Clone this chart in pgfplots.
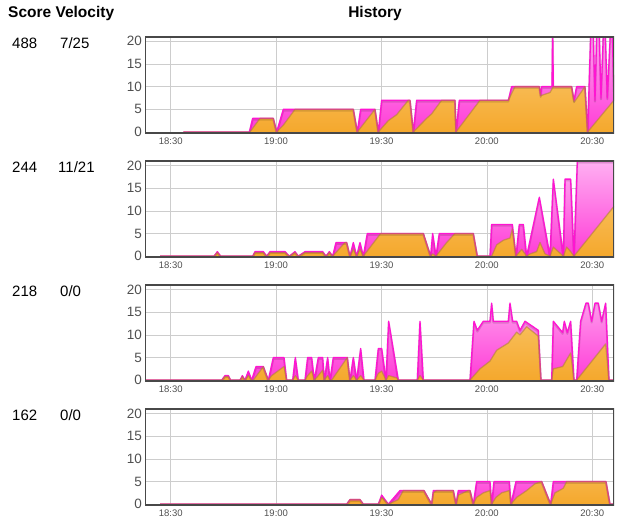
\documentclass[border=0pt]{standalone}
\usepackage{pgfplots}
\pgfplotsset{compat=1.18}
\usepackage{pgfplotstable}
\usepackage{fontspec}
\setmainfont{Liberation Sans}

\definecolor{magline}{RGB}{255,20,210}
\definecolor{magtop}{RGB}{255,175,242}
\definecolor{magbot}{RGB}{255,60,215}
\definecolor{orline}{RGB}{175,125,55}
\definecolor{ortop}{RGB}{250,205,120}
\definecolor{orbot}{RGB}{245,168,45}
\definecolor{gridgray}{RGB}{205,205,205}
\definecolor{framegray}{RGB}{72,72,72}
\definecolor{textgray}{RGB}{80,80,80}

% x is read in screen units of the time axis: 92 = 18:30, 10.54 per minute
% panel 1
\pgfplotstableread[row sep=\\]{x y\\ 130 0\\ 328 0\\ 338 3\\ 400 3\\ 410 0\\ 430 5\\ 640 5\\ 652 0\\ 662 5\\ 705 5\\ 715 0\\ 725 7\\ 810 7\\ 820 0\\ 830 7\\ 945 7\\ 948 0\\ 958 7\\ 1105 7\\ 1115 10\\ 1198 10\\ 1202 8\\ 1205 10\\ 1236 10\\ 1238 24\\ 1240 10\\ 1295 10\\ 1302 7\\ 1310 10\\ 1335 10\\ 1343 0\\ 1352 21.5\\ 1360 21.5\\ 1365 7\\ 1370 21.5\\ 1378 21.5\\ 1383 7.5\\ 1390 21.5\\ 1396 21.5\\ 1402 7.5\\ 1411 21.5\\ 1417 21.5\\ 1422 7\\}\pOneM
\pgfplotstableread[row sep=\\]{x y\\ 130 0\\ 330 0\\ 360 3\\ 400 3\\ 410 0\\ 430 1.5\\ 465 5\\ 640 5\\ 652 0\\ 705 5\\ 715 0\\ 745 2.5\\ 770 3.8\\ 805 7\\ 810 7\\ 820 0\\ 860 3\\ 875 4\\ 905 7\\ 945 7\\ 948 0\\ 1020 7\\ 1105 7\\ 1125 10\\ 1198 10\\ 1202 8\\ 1230 8.7\\ 1240 10\\ 1295 10\\ 1302 6.5\\ 1335 10\\ 1343 0\\ 1422 7\\}\pOneO
% panel 2
\pgfplotstableread[row sep=\\]{x y\\ 60 0\\ 222 0\\ 232 1\\ 242 0\\ 338 0\\ 345 1\\ 370 1\\ 380 0\\ 390 1\\ 435 1\\ 448 0\\ 465 1\\ 475 0\\ 495 1\\ 548 1\\ 558 0\\ 568 1\\ 578 0\\ 588 3\\ 620 3\\ 630 0\\ 640 3\\ 650 0\\ 660 3\\ 670 0\\ 682 5\\ 850 5\\ 872 0\\ 878 5\\ 888 0\\ 898 5\\ 1000 5\\ 1012 0\\ 1050 0\\ 1055 7\\ 1117 7\\ 1128 0\\ 1138 7\\ 1150 7\\ 1160 0\\ 1198 13\\ 1230 0\\ 1240 17\\ 1270 0\\ 1275 17\\ 1292 17\\ 1302 0\\ 1312 20.9\\ 1422 20.9\\}\pTwoM
\pgfplotstableread[row sep=\\]{x y\\ 60 0\\ 222 0\\ 232 0.8\\ 242 0\\ 338 0\\ 345 0.8\\ 370 0.8\\ 380 0\\ 390 0.8\\ 435 0.8\\ 448 0\\ 465 0.8\\ 475 0\\ 495 0.8\\ 548 0.8\\ 558 0\\ 568 0.8\\ 578 0\\ 615 3\\ 620 3\\ 630 0\\ 640 1.5\\ 650 0\\ 660 1.5\\ 670 0\\ 722 5\\ 850 5\\ 872 0\\ 878 0.5\\ 888 0\\ 920 3\\ 945 5\\ 1000 5\\ 1012 0\\ 1055 0\\ 1070 2.5\\ 1090 3.5\\ 1110 4\\ 1117 6\\ 1128 0\\ 1145 1.5\\ 1160 0\\ 1170 0.5\\ 1190 1\\ 1200 3\\ 1215 0.5\\ 1230 0\\ 1240 2\\ 1255 1\\ 1270 0\\ 1280 2\\ 1292 1\\ 1302 0\\ 1422 11\\}\pTwoO
% panel 3
\pgfplotstableread[row sep=\\]{x y\\ 15 0\\ 245 0\\ 255 1\\ 265 1\\ 272 0\\ 300 0\\ 307 1\\ 315 0\\ 325 2\\ 335 0\\ 348 3\\ 370 3\\ 385 0\\ 400 5\\ 432 5\\ 440 0\\ 458 0\\ 466 5\\ 475 0\\ 495 0\\ 503 5\\ 515 5\\ 523 0\\ 535 5\\ 548 5\\ 553 0\\ 563 5\\ 570 0\\ 580 5\\ 622 5\\ 630 0\\ 640 5\\ 650 0\\ 662 7\\ 672 0\\ 705 0\\ 715 7\\ 725 7\\ 738 0\\ 746 13\\ 775 0\\ 832 0\\ 840 13\\ 850 0\\ 990 0\\ 1002 13\\ 1012 11\\ 1030 13\\ 1050 13\\ 1055 17\\ 1060 13\\ 1105 13\\ 1110 17\\ 1118 13\\ 1130 13\\ 1140 11\\ 1155 13\\ 1195 11\\ 1203 0\\ 1235 0\\ 1240 13\\ 1268 10.5\\ 1273 13\\ 1282 10.5\\ 1292 13\\ 1302 0\\ 1310 0\\ 1322 13\\ 1338 17\\ 1345 17\\ 1355 13\\ 1365 17\\ 1375 17\\ 1385 13\\ 1397 17\\ 1407 0\\ 1422 0\\}\pThreeM
\pgfplotstableread[row sep=\\]{x y\\ 15 0\\ 245 0\\ 255 0.8\\ 265 0.8\\ 272 0\\ 300 0\\ 307 0.8\\ 315 0\\ 325 1\\ 335 0\\ 340 0\\ 370 3\\ 385 0\\ 395 1\\ 432 3\\ 440 0\\ 458 0\\ 466 1\\ 475 0\\ 495 0\\ 503 1\\ 515 2\\ 523 0\\ 535 1\\ 548 2.2\\ 553 0\\ 563 1\\ 570 0\\ 575 0\\ 622 5\\ 630 0\\ 640 1\\ 650 0\\ 662 1\\ 672 0\\ 705 0\\ 715 1.5\\ 725 2\\ 738 0\\ 746 1\\ 770 0.5\\ 775 0\\ 832 0\\ 840 1\\ 850 0\\ 990 0\\ 1020 2.5\\ 1050 4.2\\ 1070 6.6\\ 1105 8.2\\ 1130 10.6\\ 1140 10\\ 1160 11.8\\ 1195 9.7\\ 1203 0\\ 1235 0\\ 1240 2.5\\ 1268 3\\ 1292 6\\ 1302 0\\ 1310 0\\ 1397 8\\ 1407 0\\ 1422 0\\}\pThreeO
% panel 4
\pgfplotstableread[row sep=\\]{x y\\ 60 0\\ 620 0\\ 630 1\\ 660 1\\ 670 0\\ 715 0\\ 725 2\\ 745 0\\ 780 3\\ 852 3\\ 875 0\\ 880 3\\ 940 3\\ 948 0\\ 955 3\\ 990 3\\ 1000 0\\ 1010 5\\ 1050 5\\ 1055 0\\ 1062 5\\ 1108 5\\ 1113 0\\ 1128 5\\ 1205 5\\ 1232 0\\ 1240 5\\ 1398 5\\ 1410 0\\ 1422 0\\}\pFourM
\pgfplotstableread[row sep=\\]{x y\\ 60 0\\ 620 0\\ 630 1\\ 660 1\\ 670 0\\ 715 0\\ 725 1.5\\ 745 0\\ 775 1\\ 790 3\\ 852 3\\ 875 0\\ 880 2.5\\ 890 3\\ 940 3\\ 948 0\\ 955 2\\ 985 3\\ 990 3\\ 1000 0\\ 1010 1.5\\ 1030 2.5\\ 1050 3\\ 1055 0\\ 1068 1.5\\ 1085 2.5\\ 1108 3\\ 1113 0\\ 1130 1.5\\ 1160 3\\ 1185 4.5\\ 1205 5\\ 1232 0\\ 1245 2.5\\ 1270 3.5\\ 1280 5\\ 1398 5\\ 1410 0\\ 1422 0\\}\pFourO

\pgfplotsset{
  hist/.style={
    anchor=south west,
    width=469pt, height=96.5pt, scale only axis,
    xmin=22.69, xmax=156.19, ymin=-0.3, ymax=21,
    xtick={30,60,90,120,150},
    xticklabels={18:30,19:00,19:30,20:00,20:30},
    ytick={0,5,10,15,20},
    grid=major, grid style={gridgray, line width=0.6pt},
    axis line style={draw=none},
    major tick length=0pt,
    tick label style={textgray},
    xticklabel style={font=\fontsize{9.5}{10}\selectfont, inner sep=0pt, anchor=north, yshift=-4.5pt},
    yticklabel style={font=\fontsize{13.5}{14}\selectfont, inner sep=0pt, anchor=east, xshift=-3pt},
    /pgf/number format/assume math mode=true,
    x filter/.expression={30+(x-92)/10.54},
  },
  shade/.style={black, opacity=0.13, line width=2pt, line join=round, transform canvas={yshift=-1.3pt}},
  mline/.style={magline, line width=1.3pt, line join=round},
  oline/.style={orline, line width=1.3pt, line join=round, opacity=0.55},
}

% #4, #5: how far up the axis-wide gradient each area reaches (per cent)
\newcommand{\panel}[5]{%
  \begin{axis}[hist, at={(145pt,#1pt)}]
    \addplot[draw=none, top color=magtop!#4!magbot, bottom color=magbot] table {#2} \closedcycle;
    \addplot[draw=none, top color=ortop!#5!orbot, bottom color=orbot] table {#3} \closedcycle;
    \addplot[shade] table {#2};
    \addplot[mline] table {#2};
    \addplot[oline] table {#3};
    \draw[framegray, line width=2pt] (rel axis cs:0,0) rectangle (rel axis cs:1,1);
  \end{axis}}

\begin{document}
\begin{tikzpicture}
  \path[use as bounding box] (0pt,0pt) rectangle (637pt,524pt);
  \node[anchor=base west, inner sep=0pt, font=\bfseries\fontsize{15.5}{16}\selectfont] at (8pt,506.7pt) {Score Velocity};
  \node[anchor=base, inner sep=0pt, font=\bfseries\fontsize{15.5}{16}\selectfont] at (375pt,506.7pt) {History};

  \panel{390.7}{\pOneM}{\pOneO}{100}{48}
  \panel{266.5}{\pTwoM}{\pTwoO}{100}{52}
  \panel{142.5}{\pThreeM}{\pThreeO}{81}{56}
  \panel{18.5}{\pFourM}{\pFourO}{30}{30}

  \begin{scope}[every node/.style={anchor=base west, inner sep=0pt, font=\fontsize{15}{16}\selectfont}]
    \node at (12pt,475.7pt) {488};   \node at (60pt,475.7pt) {7/25};
    \node at (12pt,351.6pt) {244};   \node at (58pt,351.6pt) {11/21};
    \node at (12pt,227.5pt) {218};   \node at (60pt,227.5pt) {0/0};
    \node at (12pt,103.4pt) {162};   \node at (60pt,103.4pt) {0/0};
  \end{scope}
\end{tikzpicture}
\end{document}
